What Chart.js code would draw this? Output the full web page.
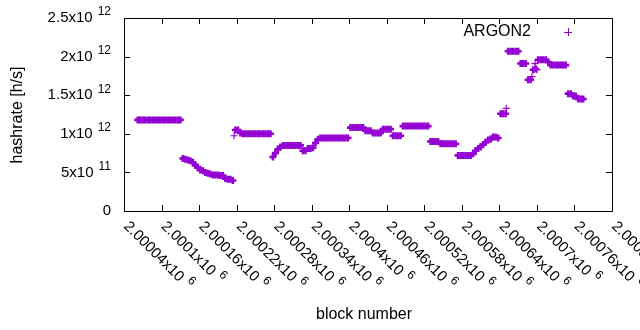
<!DOCTYPE html>
<html>
<head>
<meta charset="utf-8">
<script src="https://cdn.jsdelivr.net/npm/chart.js@4.4.1/dist/chart.umd.min.js"></script>
<style>
  html, body { margin: 0; padding: 0; background: #fff; }
</style>
</head>
<body>
<canvas id="chart" width="640" height="330"></canvas>
<script>
// hashrate samples, one every 4 blocks starting at firstBlock (units of 10^12 h/s)
const firstBlock = 2000062;
const blockStep = 4;
const hashrate = [
  1.18, 1.18, 1.18, 1.18, 1.18, 1.18, 1.18, 1.18, 1.18, 1.18,
  1.18, 1.18, 1.18, 1.18, 1.18, 1.18, 1.18, 1.18,
  0.68, 0.67, 0.66, 0.65, 0.63, 0.59, 0.57, 0.53, 0.52, 0.50,
  0.49, 0.48, 0.465, 0.465, 0.465, 0.46, 0.46, 0.42, 0.41, 0.41, 0.395,
  1.05, 1.05, 1.01,
  1.00, 1.00, 1.00, 1.00, 1.00, 1.00, 1.00, 1.00, 1.00, 1.00, 1.00, 1.00,
  0.70, 0.75, 0.80, 0.83,
  0.85, 0.85, 0.85, 0.85, 0.85, 0.85, 0.85, 0.85,
  0.78, 0.78, 0.81, 0.81, 0.82, 0.88, 0.93,
  0.945, 0.945, 0.945, 0.945, 0.945, 0.945, 0.945, 0.945, 0.945, 0.945, 0.945, 0.945,
  1.08, 1.08, 1.08, 1.08, 1.08, 1.08,
  1.04, 1.04, 1.04,
  1.01, 1.01, 1.01, 1.01,
  1.06, 1.06, 1.06, 1.06,
  0.975, 0.975, 0.975, 0.975,
  1.10, 1.10, 1.10, 1.10, 1.10, 1.10, 1.10, 1.10, 1.10, 1.10, 1.10,
  0.90, 0.90, 0.90, 0.90,
  0.87, 0.87, 0.87, 0.87, 0.87, 0.87, 0.87,
  0.72, 0.72, 0.72, 0.72, 0.72, 0.72,
  0.74, 0.78, 0.81, 0.83, 0.86, 0.89, 0.92, 0.93, 0.96, 0.96, 0.945,
  1.26, 1.26, 1.26,
  2.07, 2.07, 2.07, 2.07, 2.07,
  1.91, 1.91, 1.91,
  1.70, 1.70, 1.83, 1.84,
  1.96, 1.96, 1.96, 1.96, 1.93,
  1.89, 1.89, 1.89, 1.89, 1.89, 1.89, 1.89,
  1.52, 1.52, 1.49, 1.49, 1.45, 1.45, 1.45
];
// stray points that sit off the main trace
const extraBlocks = [2000216, 2000651, 2000692, 2000697, 2000700];
const extraRate = [0.975, 1.33, 1.74, 1.91, 1.83];

const xTicks = [2000040, 2000100, 2000160, 2000220, 2000280, 2000340, 2000400,
  2000460, 2000520, 2000580, 2000640, 2000700, 2000760, 2000820];
const xTickLabels = ['2.00004', '2.0001', '2.00016', '2.00022', '2.00028', '2.00034', '2.0004',
  '2.00046', '2.00052', '2.00058', '2.00064', '2.0007', '2.00076', '2.00082'];
const yTicks = [0, 5e11, 1e12, 1.5e12, 2e12, 2.5e12];
const yTickMantissa = ['0', '5x10', '1x10', '1.5x10', '2x10', '2.5x10'];
const yTickExp = ['', '11', '12', '12', '12', '12'];

const purple = '#9400d3';
const font = '15px "Liberation Sans", Arial, sans-serif';
const titleFont = '16px "Liberation Sans", Arial, sans-serif';
const supFont = '12px "Liberation Sans", Arial, sans-serif';

const mainPoints = hashrate.map((v, i) => ({ x: firstBlock + i * blockStep, y: v * 1e12 }));
const extraPoints = extraBlocks.map((b, i) => ({ x: b, y: extraRate[i] * 1e12 }));

const gnuplotFrame = {
  id: 'gnuplotFrame',
  beforeDatasetsDraw(chart) {
    const ctx = chart.ctx;
    const a = chart.chartArea;
    const xs = chart.scales.x, ys = chart.scales.y;
    ctx.save();
    ctx.strokeStyle = '#000';
    ctx.lineWidth = 1;
    ctx.beginPath();
    ctx.rect(Math.round(a.left) + 0.5, Math.round(a.top) + 0.5,
      Math.round(a.right - a.left), Math.round(a.bottom - a.top));
    // inward tics on all four sides
    xTicks.forEach(t => {
      const px = Math.round(xs.getPixelForValue(t)) + 0.5;
      ctx.moveTo(px, a.bottom); ctx.lineTo(px, a.bottom - 6);
      ctx.moveTo(px, a.top); ctx.lineTo(px, a.top + 6);
    });
    yTicks.forEach(t => {
      const py = Math.round(ys.getPixelForValue(t)) + 0.5;
      ctx.moveTo(a.left, py); ctx.lineTo(a.left + 6, py);
      ctx.moveTo(a.right, py); ctx.lineTo(a.right - 6, py);
    });
    ctx.stroke();
    ctx.restore();
  },
  afterDraw(chart) {
    const ctx = chart.ctx;
    const a = chart.chartArea;
    const xs = chart.scales.x, ys = chart.scales.y;
    ctx.save();
    ctx.fillStyle = '#000';

    // y tick labels, right aligned
    yTicks.forEach((t, i) => {
      const py = ys.getPixelForValue(t);
      let right = 111;
      ctx.textBaseline = 'middle';
      ctx.textAlign = 'right';
      if (yTickExp[i]) {
        ctx.font = supFont;
        ctx.fillText(yTickExp[i], right, py - 6);
        right -= ctx.measureText(yTickExp[i]).width + 5;
      }
      ctx.font = font;
      ctx.fillText(yTickMantissa[i], right, py);
    });

    // x tick labels, rotated by -45 degrees
    xTicks.forEach((t, i) => {
      const px = xs.getPixelForValue(t);
      ctx.save();
      ctx.translate(px + 2, a.bottom + 13);
      ctx.rotate(Math.PI / 4);
      ctx.textAlign = 'left';
      ctx.textBaseline = 'middle';
      ctx.font = font;
      ctx.fillText(xTickLabels[i] + 'x10', 0, 0);
      const w = ctx.measureText(xTickLabels[i] + 'x10').width;
      ctx.font = supFont;
      ctx.fillText('6', w + 5, -6);
      ctx.restore();
    });

    // axis titles
    ctx.font = titleFont;
    ctx.textAlign = 'center';
    ctx.textBaseline = 'middle';
    ctx.fillText('block number', 364, 315);
    ctx.save();
    ctx.translate(18, 115);
    ctx.rotate(-Math.PI / 2);
    ctx.fillText('hashrate [h/s]', 0, 0);
    ctx.restore();

    // key
    ctx.textAlign = 'right';
    ctx.fillText('ARGON2', 531, 32);
    ctx.strokeStyle = purple;
    ctx.lineWidth = 1;
    ctx.beginPath();
    ctx.moveTo(564, 32.5); ctx.lineTo(572, 32.5);
    ctx.moveTo(568.5, 28); ctx.lineTo(568.5, 36);
    ctx.stroke();
    ctx.restore();
  }
};

const pointStyle = {
  showLine: false,
  pointStyle: 'cross',
  pointRadius: 3.5,
  pointBorderWidth: 2.6,
  borderColor: purple,
  backgroundColor: purple
};

new Chart(document.getElementById('chart'), {
  type: 'scatter',
  data: {
    datasets: [
      Object.assign({ label: 'ARGON2', data: mainPoints }, pointStyle),
      Object.assign({ label: 'ARGON2 extra', data: extraPoints }, pointStyle, { pointBorderWidth: 1.2 })
    ]
  },
  options: {
    responsive: false,
    animation: false,
    devicePixelRatio: 1,
    layout: { padding: { top: 18, right: 28, left: 0, bottom: 0 } },
    plugins: { legend: { display: false }, tooltip: { enabled: false } },
    scales: {
      x: {
        type: 'linear',
        min: 2000040,
        max: 2000820,
        grid: { display: false },
        border: { display: false },
        ticks: { display: false },
        afterFit: s => { s.height = 119; }
      },
      y: {
        min: 0,
        max: 2.5e12,
        grid: { display: false },
        border: { display: false },
        ticks: { display: false },
        afterFit: s => { s.width = 124; }
      }
    }
  },
  plugins: [gnuplotFrame]
});
</script>
</body>
</html>
